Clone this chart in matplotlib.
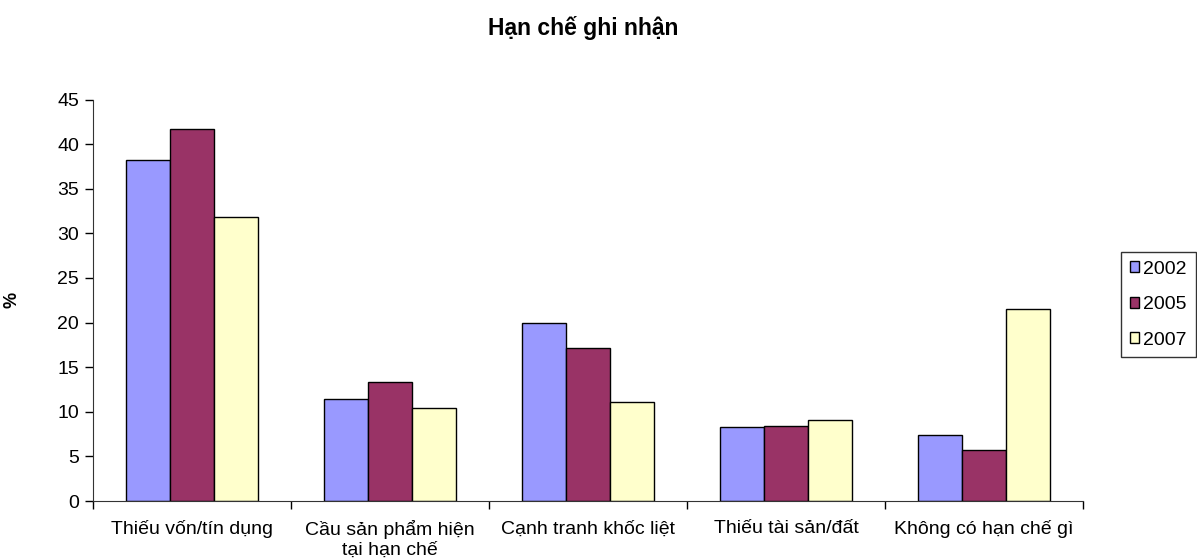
import numpy as np
import matplotlib.pyplot as plt

plt.rcParams['font.family'] = ['Liberation Sans', 'DejaVu Sans']

categories = ['Thiếu vốn/tín dụng', 'Cầu sản phẩm hiện\ntại hạn chế', 'Cạnh tranh khốc liệt',
              'Thiếu tài sản/đất', 'Không có hạn chế gì']
years = ['2002', '2005', '2007']
v2002 = [38.2, 11.4, 20.0, 8.3, 7.4]
v2005 = [41.7, 13.3, 17.1, 8.4, 5.7]
v2007 = [31.8, 10.4, 11.1, 9.1, 21.5]
colors = ['#9999FF', '#993366', '#FFFFCC']

fig = plt.figure(figsize=(11.97, 5.58), dpi=100)
ax = fig.add_axes([93/1197, 1-501/558, (1083-93)/1197, (501-99.5)/558])

x = np.arange(len(categories))
w = 1/4.5
for i, (vals, yr) in enumerate(zip([v2002, v2005, v2007], years)):
    ax.bar(x + (i-1)*w, vals, w, color=colors[i], edgecolor='black', linewidth=1, label=yr)

ax.set_xlim(-0.5, len(categories)-0.5)
ax.set_ylim(0, 45)
ax.set_yticks(range(0, 46, 5))
ax.set_xticks(x)
ax.set_xticklabels(categories, fontsize=14, linespacing=1.2)
ax.set_xticks(np.arange(-0.5, len(categories), 1), minor=True)
ax.tick_params(axis='x', which='major', length=0, pad=14)
ax.tick_params(axis='x', which='minor', length=6, width=1, direction='out')
ax.tick_params(axis='y', length=6, width=1, labelsize=14, pad=4)
for s in ['top', 'right']:
    ax.spines[s].set_visible(False)
for s in ['left', 'bottom']:
    ax.spines[s].set_color('#333333')

ax.set_ylabel('%', fontsize=13, fontweight='bold')
ax.yaxis.set_label_coords((20-93)/990, 0.5)
fig.text(583/1197, 1-28/558, 'Hạn chế ghi nhận', ha='center', va='center',
         fontsize=16.5, fontweight='bold')

leg = fig.legend(loc='upper left', bbox_to_anchor=(1121/1197, 1-252/558), frameon=True,
                 fancybox=False, edgecolor='black', fontsize=14, handlelength=0.5,
                 handleheight=0.5, handletextpad=0.2, labelspacing=0.95, borderpad=0.45,
                 borderaxespad=0)
leg.get_frame().set_linewidth(1)

fig.savefig('out.png', dpi=100)
